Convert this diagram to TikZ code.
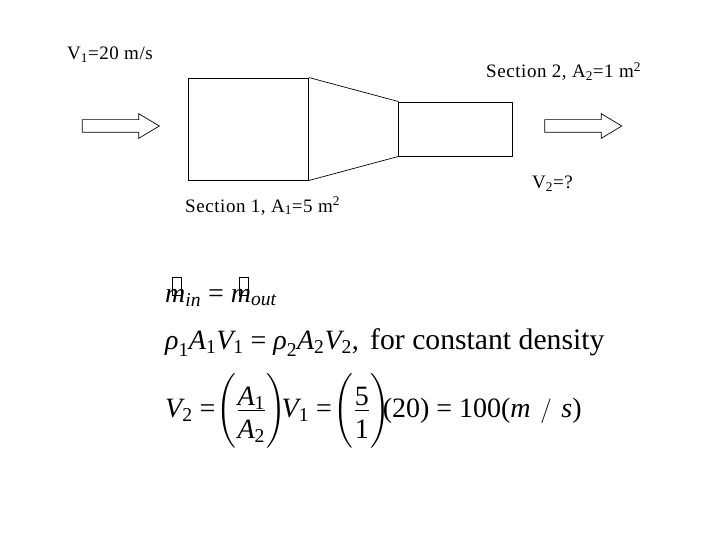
\documentclass[tikz,border=0pt]{standalone}
\usepackage{fontspec}
\setmainfont{Liberation Serif}
\usepackage{amsmath}
\usepackage{xcolor}
\usetikzlibrary{shapes.arrows, positioning}
\newcommand{\itm}[1]{\textit{#1}}
\newcommand{\rmn}[1]{\textrm{#1}}
\newcommand{\eqs}{\mathrel{\textrm{=}}}
\newcommand{\numer}[1]{\raisebox{-5pt}{\smash{#1}}}
\newcommand{\denom}[1]{\raisebox{-4pt}{\smash{#1}}}
\newcommand{\tallrule}{\rule[-29pt]{0pt}{72pt}}
\tikzstyle{sectionbox} = [rectangle, draw=black, line width=0.9pt, inner sep=0pt]
\tikzstyle{flowarrow} = [single arrow, draw=black, line width=0.7pt, inner xsep=0pt, inner ysep=6pt,
minimum height=77pt, single arrow head extend=6pt, single arrow tip angle=62]
\tikzstyle{wall} = [draw=black, line width=0.7pt]
\tikzstyle{label} = [anchor=base west, inner sep=0pt, font=\fontsize{19}{21}\selectfont\addfontfeature{LetterSpace=3}]
\tikzstyle{formula} = [anchor=base west, inner sep=0pt, font=\fontsize{28}{32}\selectfont]
\tikzstyle{missingglyph} = [rectangle, draw=black, line width=0.9pt, inner sep=0pt,
minimum width=9pt, minimum height=18pt]

\begin{document}
\begin{tikzpicture}[x=1pt, y=-1pt]
    \useasboundingbox (0,0) rectangle (720,540);

    \node (sectionone) [sectionbox, minimum width=120pt, minimum height=102pt] at (248.5,129) {};
    \node (sectiontwo) [sectionbox, minimum width=114pt, minimum height=54pt, right=89.5pt of sectionone] {};
    \draw[wall] (sectionone.north east) -- (sectiontwo.north west);
    \draw[wall] (sectionone.south east) -- (sectiontwo.south west);

    \node (inflow)  [flowarrow] at (115.5,126) {};
    \node (outflow) [flowarrow] at (578,126) {};

    \node (vone)    [label] at (67,60)   {V$_{\rmn{1}}$=20 m/s};
    \node (secone)  [label] at (185,212) {Section 1, A$_{\rmn{1}}$=5 m$^{\rmn{2}}$};
    \node (sectwo)  [label] at (486,78)  {Section 2, A$_{\rmn{2}}$=1 m$^{\rmn{2}}$};
    \node (vtwo)    [label] at (532,189) {V$_{\rmn{2}}$=?};

    \node (massflow) [formula] at (165,302)
        {$\itm{m}_{\itm{in}} \eqs \itm{m}_{\itm{out}}$};
    \node (boxin)  [missingglyph] at (176.5,286) {};
    \node (boxout) [missingglyph] at (243.5,286) {};
    \node (continuity) [formula] at (165,349)
        {$\itm{ρ}_{\rmn{1}}\itm{A}_{\rmn{1}}\itm{V}_{\rmn{1}} \eqs \itm{ρ}_{\rmn{2}}\itm{A}_{\rmn{2}}\itm{V}_{\rmn{2}}\rmn{,}$};
    \node (density) [formula, font=\fontsize{29.7}{32}\selectfont] at (370,349) {for constant density};
    \node (result) [formula] at (165,417)
        {$\itm{V}_{\rmn{2}} \eqs \mkern-4mu\left(\tallrule\dfrac{\numer{$\itm{A}_{\rmn{1}}$}}{\denom{$\itm{A}_{\rmn{2}}$}}\right)\!\!\itm{V}_{\rmn{1}}
          \eqs \mkern-3.5mu\left(\tallrule\dfrac{\numer{\rmn{5}}}{\denom{\rmn{1}}}\right)\mkern-8mu\rmn{(20)} \eqs \rmn{100(}\itm{m}\mkern7mu/\mkern7mu\itm{s}\rmn{)}$};
\end{tikzpicture}
\end{document}
